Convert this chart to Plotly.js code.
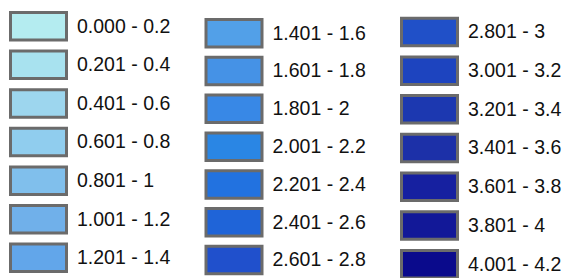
<!DOCTYPE html>
<html>
<head>
<meta charset="utf-8">
<script src="https://cdn.plot.ly/plotly-3.0.1.min.js"></script>
<style>html,body{margin:0;padding:0;background:#fff;}#chart{width:567px;height:278px;}</style>
</head>
<body>
<div id="chart"></div>
<script>
// Class break data
const lowerBounds = [0.000, 0.201, 0.401, 0.601, 0.801, 1.001, 1.201,
                     1.401, 1.601, 1.801, 2.001, 2.201, 2.401, 2.601,
                     2.801, 3.001, 3.201, 3.401, 3.601, 3.801, 4.001];
const upperBounds = [0.2, 0.4, 0.6, 0.8, 1, 1.2, 1.4,
                     1.6, 1.8, 2, 2.2, 2.4, 2.6, 2.8,
                     3, 3.2, 3.4, 3.6, 3.8, 4, 4.2];
const classColors = ['#b4ecf0', '#a8e2ef', '#9dd6ee', '#90cdee', '#80bfec', '#70b0ea', '#62a6ea',
                     '#52a0e8', '#4592e6', '#3888e6', '#2a86e4', '#2272e0', '#1f64d8', '#2050cc',
                     '#2050c8', '#1d44bf', '#1c38b0', '#1c30a8', '#1620a0', '#121898', '#0a0a8c'];
const labels = lowerBounds.map((lo, i) => lo.toFixed(3) + ' - ' + String(upperBounds[i]));

// Layout of the legend grid (pixels)
const rowsPerCol = 7;
const colLeft = [9, 204.5, 400];
const colTop = [11, 18, 16.7];
const colStep = [38.6, 37.8, 38.7];
const swW = 59, swH = 30.5, border = 3, textGap = 9;

const xs = [], bases = [], tx = [], ty = [];
labels.forEach((_, i) => {
  const c = Math.floor(i / rowsPerCol), r = i % rowsPerCol;
  const top = colTop[c] + r * colStep[c];
  xs.push(colLeft[c] + swW / 2);
  bases.push(top + border / 2);
  tx.push(colLeft[c] + swW + textGap);
  ty.push(top + swH / 2 + 1.5);
});

const swatches = {
  type: 'bar',
  x: xs,
  y: labels.map(() => swH - border),
  base: bases,
  width: labels.map(() => swW - border),
  marker: {color: classColors, line: {color: '#6b6b6b', width: border}},
  hoverinfo: 'skip',
  showlegend: false
};
const texts = {
  type: 'scatter',
  mode: 'text',
  x: tx,
  y: ty,
  text: labels,
  textposition: 'middle right',
  textfont: {family: '"Liberation Sans", Arial, sans-serif', size: 19.5, color: '#111111'},
  hoverinfo: 'skip',
  showlegend: false,
  cliponaxis: false
};

const layout = {
  width: 567, height: 278,
  margin: {l: 0, r: 0, t: 0, b: 0, pad: 0},
  paper_bgcolor: '#ffffff', plot_bgcolor: '#ffffff',
  xaxis: {range: [0, 567], visible: false, fixedrange: true},
  yaxis: {range: [278, 0], visible: false, fixedrange: true},
  showlegend: false
};
Plotly.newPlot('chart', [swatches, texts], layout, {staticPlot: true, displayModeBar: false});
</script>
</body>
</html>
